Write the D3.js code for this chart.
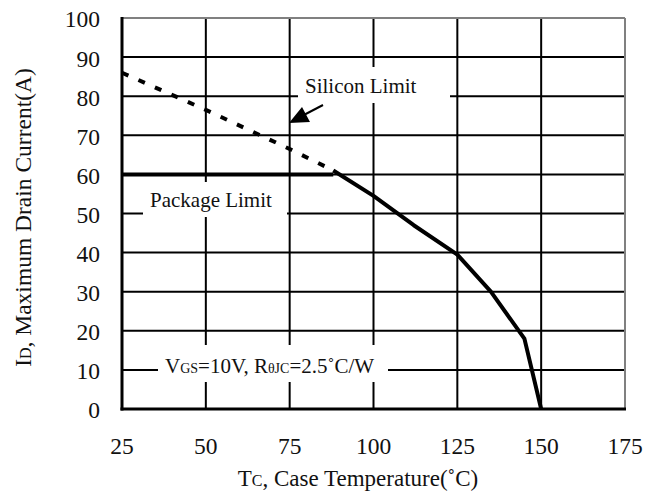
<!DOCTYPE html>
<html>
<head>
<meta charset="utf-8">
<script src="https://cdn.jsdelivr.net/npm/d3@7"></script>
<style>
  html, body { margin: 0; padding: 0; background: #fff; }
  svg { display: block; }
  text { font-family: "Liberation Serif", "Times New Roman", serif; fill: #111; }
</style>
</head>
<body>
<svg id="chart" width="654" height="491"></svg>
<script>
// Case temperature (°C) axis ticks and drain current (A) axis ticks
const tempTicks = [25, 50, 75, 100, 125, 150, 175];
const currentTicks = [0, 10, 20, 30, 40, 50, 60, 70, 80, 90, 100];

// Silicon limit (dashed) below the package limit crossover
const siliconTemp = [25, 50, 75, 88];
const siliconCurrent = [86, 76.5, 66.5, 61];

// Derating curve above the crossover
const deratingTemp = [88, 100, 112, 125, 135, 145, 150];
const deratingCurrent = [61, 54.5, 47, 39.5, 30, 18, 0];

// Package limit
const packageTemp = [25, 88];
const packageCurrent = [60, 60];

const svg = d3.select("#chart");
const plotLeft = 122, plotRight = 625, plotTop = 18, plotBottom = 409;

const x = d3.scaleLinear().domain([25, 175]).range([plotLeft, plotRight]);
const y = d3.scaleLinear().domain([0, 100]).range([plotBottom, plotTop]);

// grid
const grid = svg.append("g");
grid.selectAll("line.v").data(tempTicks.slice(1, -1)).join("line")
  .attr("x1", d => x(d)).attr("x2", d => x(d))
  .attr("y1", plotTop).attr("y2", plotBottom)
  .attr("stroke", "#000").attr("stroke-width", 2);
grid.selectAll("line.h").data(currentTicks.slice(1, -1)).join("line")
  .attr("x1", plotLeft).attr("x2", plotRight)
  .attr("y1", d => y(d)).attr("y2", d => y(d))
  .attr("stroke", "#000").attr("stroke-width", 2);

// outer frame: grey top/right, heavy black left/bottom
svg.append("line").attr("x1", plotLeft).attr("x2", plotRight).attr("y1", plotTop).attr("y2", plotTop)
  .attr("stroke", "#808080").attr("stroke-width", 2);
svg.append("line").attr("x1", plotRight).attr("x2", plotRight).attr("y1", plotTop).attr("y2", plotBottom)
  .attr("stroke", "#808080").attr("stroke-width", 2);
svg.append("line").attr("x1", plotLeft).attr("x2", plotLeft).attr("y1", plotTop - 1).attr("y2", plotBottom + 1.5)
  .attr("stroke", "#000").attr("stroke-width", 3);
svg.append("line").attr("x1", plotLeft - 1.5).attr("x2", plotRight + 1).attr("y1", plotBottom).attr("y2", plotBottom)
  .attr("stroke", "#000").attr("stroke-width", 3);

// white label panels that interrupt the grid
const panels = [
  { x0: 298, y0: 67, x1: 450, y1: 103 },
  { x0: 143, y0: 182, x1: 287, y1: 217 },
  { x0: 158, y0: 345, x1: 388, y1: 382 }
];
svg.selectAll("rect.panel").data(panels).join("rect")
  .attr("x", d => d.x0).attr("y", d => d.y0)
  .attr("width", d => d.x1 - d.x0).attr("height", d => d.y1 - d.y0)
  .attr("fill", "#fff");

const line = d3.line().x(d => x(d[0])).y(d => y(d[1]));

svg.append("path")
  .attr("d", line(d3.zip(packageTemp, packageCurrent)))
  .attr("fill", "none").attr("stroke", "#000").attr("stroke-width", 4);

svg.append("path")
  .attr("d", line(d3.zip(siliconTemp, siliconCurrent)))
  .attr("fill", "none").attr("stroke", "#000").attr("stroke-width", 4)
  .attr("stroke-dasharray", "7,11");

svg.append("path")
  .attr("d", line(d3.zip(deratingTemp, deratingCurrent)))
  .attr("fill", "none").attr("stroke", "#000").attr("stroke-width", 4)
  .attr("stroke-linejoin", "round");

// tick labels
svg.selectAll("text.yt").data(currentTicks).join("text")
  .attr("x", 100).attr("y", d => y(d)).attr("dy", "0.4em")
  .attr("text-anchor", "end").attr("font-size", 23.5)
  .text(d => d);
svg.selectAll("text.xt").data(tempTicks).join("text")
  .attr("x", d => x(d)).attr("y", 454)
  .attr("text-anchor", "middle").attr("font-size", 23.5)
  .text(d => d);

// axis titles
const xt = svg.append("text").attr("x", 358).attr("y", 486)
  .attr("text-anchor", "middle").attr("font-size", 23);
xt.append("tspan").text("T");
xt.append("tspan").attr("font-size", 16).text("C");
xt.append("tspan").text(", Case Temperature(˚C)");

const yt = svg.append("text")
  .attr("transform", `translate(31, ${(plotTop + plotBottom) / 2 + 4}) rotate(-90)`)
  .attr("text-anchor", "middle").attr("font-size", 23.5);
yt.append("tspan").text("I");
yt.append("tspan").attr("font-size", 16).text("D");
yt.append("tspan").text(", Maximum Drain Current(A)");

// annotations
svg.append("text").attr("x", 305).attr("y", 93).attr("font-size", 21).text("Silicon Limit");
svg.append("text").attr("x", 150).attr("y", 207).attr("font-size", 21).text("Package Limit");
const cond = svg.append("text").attr("x", 165).attr("y", 373).attr("font-size", 21);
cond.append("tspan").text("V");
cond.append("tspan").attr("font-size", 14).text("GS");
cond.append("tspan").text("=10V, R");
cond.append("tspan").attr("font-size", 14).text("θJC");
cond.append("tspan").text("=2.5˚C/W");

// arrow pointing at the silicon limit
svg.append("line").attr("x1", 323).attr("y1", 105).attr("x2", 300).attr("y2", 117)
  .attr("stroke", "#000").attr("stroke-width", 2);
svg.append("path").attr("d", "M289,123 L302,107 L310,122 Z").attr("fill", "#000");
</script>
</body>
</html>
